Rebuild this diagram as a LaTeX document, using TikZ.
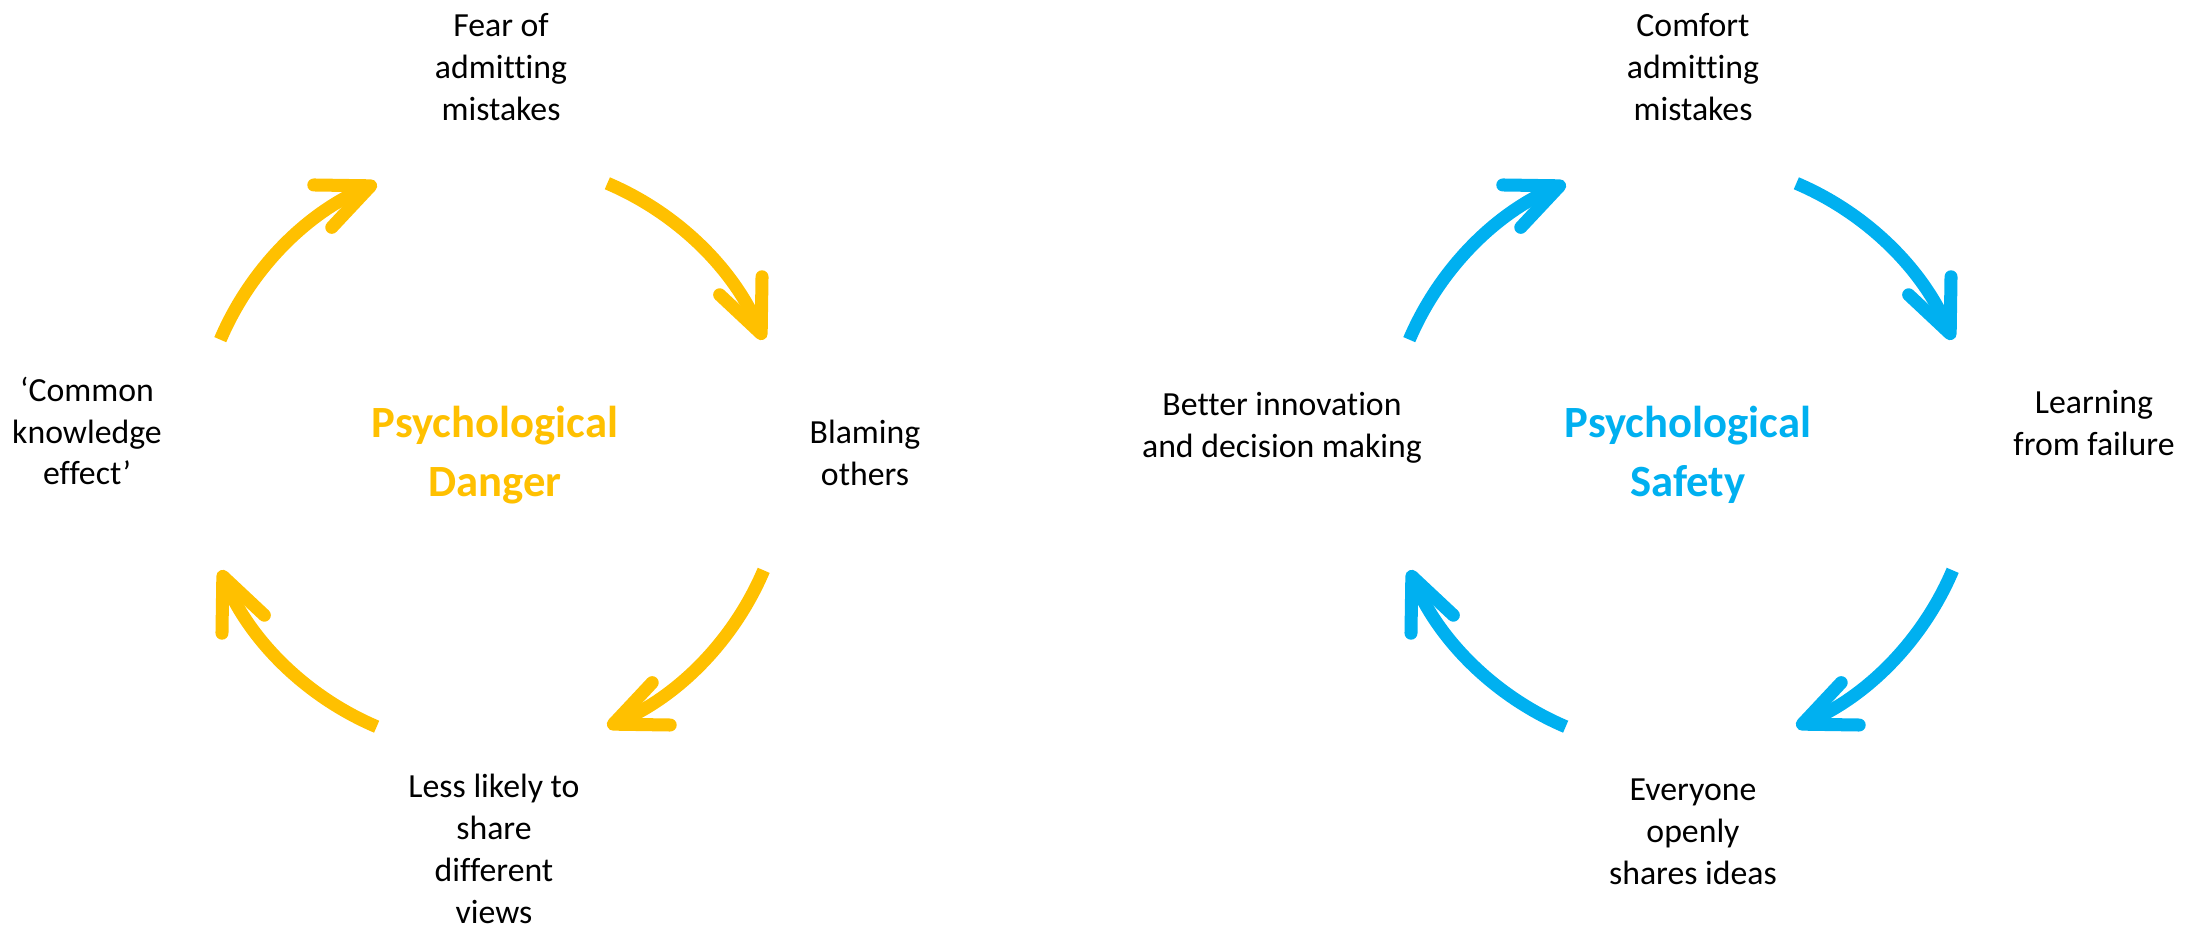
\documentclass[tikz,border=0pt]{standalone}
\usepackage{fontspec}
\setmainfont{Carlito}[Ligatures=NoCommon]
\usetikzlibrary{arrows.meta}
\definecolor{danger}{HTML}{FFC000}
\definecolor{safety}{HTML}{00B0F0}

\tikzset{
  cyclearrow/.style={line width=3.7pt, -{Straight Barb[length=5.2mm,width=4.6mm,round]}},
  steptext/.style={align=center, font=\fontsize{9.6}{11.9}\selectfont},
  titletext/.style={align=center, font=\fontsize{12.7}{16.7}\selectfont\bfseries}
}

\begin{document}
\begin{tikzpicture}[x=0.01cm,y=0.01cm]
\useasboundingbox (0,0) rectangle (2199,930);
% danger cycle
\coordinate (dc) at (492,475);
\node [titletext, text=danger] (dtitle) at (495,475) {Psychological\\Danger};
\node [steptext] (fear) at (501,863) {Fear of\\admitting\\mistakes};
\node [steptext] (blame) at (865,477) {Blaming\\others};
\node [steptext] (lesslikely) at (494,81) {Less likely to\\share\\different\\views};
\node [steptext] (common) at (87,499) {‘Common\\knowledge\\effect’};
\draw [cyclearrow, danger] (dc) ++(157:2.95cm) arc [start angle=157, end angle=113, radius=2.95cm];
\draw [cyclearrow, danger] (dc) ++(67:2.95cm) arc [start angle=67, end angle=23, radius=2.95cm];
\draw [cyclearrow, danger] (dc) ++(-23:2.95cm) arc [start angle=-23, end angle=-67, radius=2.95cm];
\draw [cyclearrow, danger] (dc) ++(-113:2.95cm) arc [start angle=-113, end angle=-157, radius=2.95cm];
% safety cycle
\coordinate (sc) at (1681,475);
\node [titletext, text=safety] (stitle) at (1688,475) {Psychological\\Safety};
\node [steptext] (comfort) at (1693,863) {Comfort\\admitting\\mistakes};
\node [steptext] (learning) at (2094,507) {Learning\\from failure};
\node [steptext] (everyone) at (1693,98) {Everyone\\openly\\shares ideas};
\node [steptext] (better) at (1282,502) {Better innovation\\and decision making};
\draw [cyclearrow, safety] (sc) ++(157:2.95cm) arc [start angle=157, end angle=113, radius=2.95cm];
\draw [cyclearrow, safety] (sc) ++(67:2.95cm) arc [start angle=67, end angle=23, radius=2.95cm];
\draw [cyclearrow, safety] (sc) ++(-23:2.95cm) arc [start angle=-23, end angle=-67, radius=2.95cm];
\draw [cyclearrow, safety] (sc) ++(-113:2.95cm) arc [start angle=-113, end angle=-157, radius=2.95cm];
\end{tikzpicture}
\end{document}
